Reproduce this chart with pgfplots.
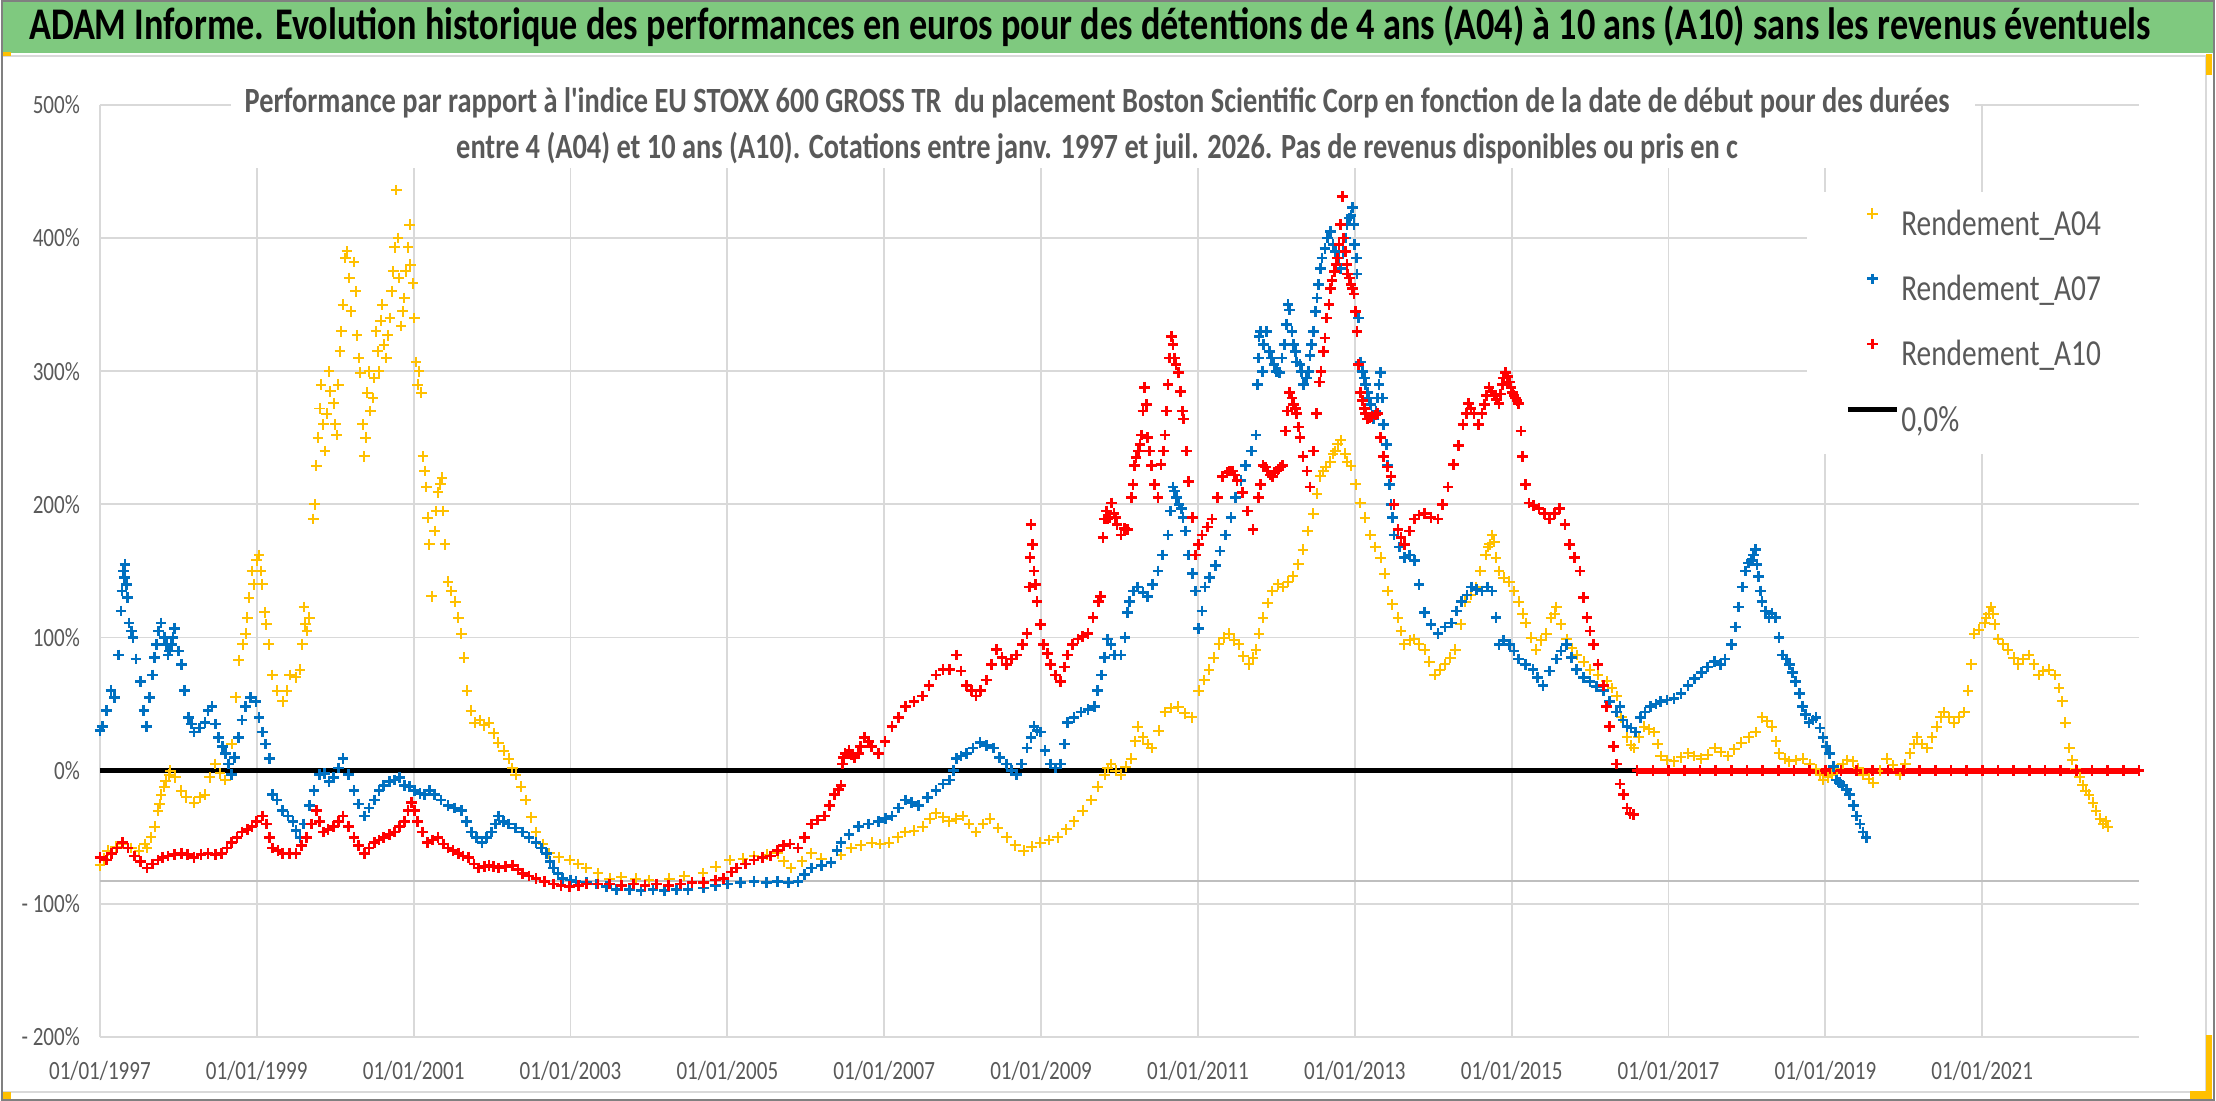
\documentclass[border=0pt]{standalone}
\usepackage{fontspec}
\setmainfont{Carlito}[FakeStretch=0.8, Ligatures=TeXOff]
\usepackage{pgfplots}
\pgfplotsset{compat=1.18}
\definecolor{yellowA}{HTML}{FFC000}
\definecolor{blueA}{HTML}{0070C0}
\definecolor{redA}{HTML}{FF0000}
\definecolor{textgray}{HTML}{595959}
\definecolor{gridgray}{HTML}{D9D9D9}
\definecolor{axisgray}{HTML}{BFBFBF}
\definecolor{bannergreen}{HTML}{7FC97F}
\definecolor{handle}{HTML}{FFC000}
\pgfplotsset{
  markleg/.style={legend image code/.code={\draw[##1] plot coordinates {(7.35pt,3.5pt)};}},
  lineleg/.style={legend image code/.code={\draw[##1] (0pt,3.5pt) -- (14.7pt,3.5pt);}},
  sA04/.style={only marks, mark=+, color=yellowA, mark size=1.6pt, mark options={line width=0.6pt}},
  sA07/.style={only marks, mark=+, color=blueA, mark size=1.6pt, mark options={line width=0.8pt}},
  sA10/.style={only marks, mark=+, color=redA, mark size=1.6pt, mark options={line width=0.8pt}},
}
\begin{document}
\begin{tikzpicture}
% background and frame
\fill[white] (0pt,0pt) rectangle (664.8pt,330.6pt);
\fill[bannergreen] (0pt,314.7pt) rectangle (664.8pt,330.6pt);
\draw[gray!80!green, line width=0.6pt] (0pt,330.3pt) -- (664.8pt,330.3pt);
\draw[gridgray, line width=0.6pt] (0.3pt,2.7pt) rectangle (662.1pt,313.8pt);
\node[anchor=base, font=\fontsize{13.6}{15}\selectfont\bfseries, text=black, inner sep=0pt] at (326.9pt,318.6pt)
 {ADAM Informe. Evolution historique des performances en euros pour des détentions de 4 ans (A04) à 10 ans (A10) sans les revenus éventuels};
\begin{axis}[
  at={(29.7pt,19.2pt)}, anchor=south west,
  scale only axis, width=612.3pt, height=279.9pt,
  xmin=1997, xmax=2023, ymin=-200, ymax=500,
  axis line style={draw=none}, tick style={draw=none},
  grid=major, major grid style={color=gridgray, line width=0.55pt},
  xtick={1997,1999,2001,2003,2005,2007,2009,2011,2013,2015,2017,2019,2021},
  xticklabels={01/01/1997,01/01/1999,01/01/2001,01/01/2003,01/01/2005,01/01/2007,01/01/2009,01/01/2011,01/01/2013,01/01/2015,01/01/2017,01/01/2019,01/01/2021},
  ytick={-200,-100,0,100,200,300,400,500},
  yticklabels={- 200\%,- 100\%,0\%,100\%,200\%,300\%,400\%,500\%},
  ticklabel style={font=\fontsize{7.9}{9}\selectfont, text=textgray},
  xticklabel style={anchor=base, yshift=-12.6pt},
  yticklabel style={xshift=-2.5pt},
  clip=false,
  legend style={at={(axis description cs:0.837,0.907)}, anchor=north west, fill=white, draw=none,
     inner xsep=11.4pt, inner ysep=4.7pt, row sep=9.2pt,
     font=\fontsize{11}{13}\selectfont, text=textgray,
     nodes={inner xsep=0.6pt, inner ysep=0pt, text height=8.2pt, text depth=2.2pt}},
  legend cell align=left,
]
\addplot[axisgray, line width=0.6pt, forget plot] coordinates {(1997,-83) (2023,-83)};
\addplot[black, line width=1.5pt, forget plot] coordinates {(1997,0) (2023,0)};
% A04
\addplot[sA04, markleg] coordinates {
(1997.0,-71) (1997.05,-66) (1997.1,-60) (1997.2,-57) (1997.3,-55) (1997.4,-58) (1997.5,-60) (1997.57,-55)
(1997.6,-58) (1997.65,-50) (1997.7,-42) (1997.74,-30) (1997.78,-18) (1997.84,-8) (1997.9,0) (1997.96,-5)
(1998.04,-15) (1998.1,-20) (1998.2,-24) (1998.27,-20) (1998.34,-18) (1998.4,-5) (1998.47,5) (1998.53,-2)
(1998.6,-7) (1998.68,20) (1998.73,55) (1998.77,83) (1998.82,95) (1998.86,103) (1998.9,130) (1998.94,150)
(1999.0,158) (1999.03,162) (1999.07,140) (1999.1,119) (1999.15,95) (1999.2,72) (1999.26,60) (1999.33,52)
(1999.38,60) (1999.42,72) (1999.5,70) (1999.55,76) (1999.6,123) (1999.64,105) (1999.67,115) (1999.72,189)
(1999.76,229) (1999.8,272) (1999.85,260) (1999.89,268) (1999.94,285) (1999.98,276) (2000.02,252) (2000.06,315)
(2000.1,350) (2000.13,385) (2000.18,370) (2000.24,382) (2000.28,327) (2000.32,299) (2000.37,236) (2000.41,284)
(2000.45,270) (2000.5,295) (2000.54,315) (2000.58,338) (2000.62,320) (2000.67,327) (2000.72,360) (2000.76,393)
(2000.78,436) (2000.81,370) (2000.84,334) (2000.88,355) (2000.93,393) (2000.96,380) (2000.99,366) (2001.03,307)
(2001.07,300) (2001.1,284) (2001.12,236) (2001.16,213) (2001.2,170) (2001.23,131) (2001.27,180) (2001.31,209)
(2001.36,220) (2001.4,170) (2001.44,142) (2001.48,135) (2001.53,127) (2001.57,115) (2001.61,103) (2001.64,85)
(2001.68,60) (2001.73,45) (2001.78,36) (2001.84,38) (2001.9,34) (2001.96,36) (2002.02,28) (2002.08,21)
(2002.15,15) (2002.21,9) (2002.26,2) (2002.3,-3) (2002.37,-12) (2002.43,-22) (2002.5,-35) (2002.56,-46)
(2002.65,-55) (2002.73,-62) (2002.85,-65) (2002.99,-67) (2003.1,-70) (2003.2,-73) (2003.35,-77) (2003.5,-81)
(2003.65,-80) (2003.83,-81) (2004.0,-82) (2004.26,-81) (2004.45,-79) (2004.69,-77) (2004.85,-72) (2005.03,-67)
(2005.2,-66) (2005.34,-64) (2005.5,-63) (2005.64,-62) (2005.72,-68) (2005.81,-73) (2005.95,-68) (2006.07,-62)
(2006.2,-66) (2006.32,-69) (2006.45,-63) (2006.58,-58) (2006.7,-56) (2006.84,-54) (2006.95,-55) (2007.06,-54)
(2007.17,-50) (2007.27,-46) (2007.38,-45) (2007.49,-42) (2007.58,-36) (2007.66,-32) (2007.75,-35) (2007.83,-38)
(2007.92,-36) (2008.0,-34) (2008.08,-40) (2008.17,-46) (2008.26,-40) (2008.35,-36) (2008.45,-43) (2008.56,-50)
(2008.67,-56) (2008.78,-60) (2008.88,-57) (2008.99,-54) (2009.1,-52) (2009.21,-50) (2009.32,-44) (2009.42,-38)
(2009.53,-30) (2009.64,-22) (2009.72,-12) (2009.81,-3) (2009.85,2) (2009.89,5) (2009.95,0) (2010.02,-3)
(2010.08,3) (2010.15,9) (2010.2,22) (2010.23,33) (2010.3,25) (2010.36,20) (2010.41,17) (2010.5,30)
(2010.58,44) (2010.66,47) (2010.75,48) (2010.83,43) (2010.92,40) (2011.01,60) (2011.08,68) (2011.14,76)
(2011.2,85) (2011.27,95) (2011.33,100) (2011.4,103) (2011.46,98) (2011.52,95) (2011.58,86) (2011.65,80)
(2011.7,85) (2011.74,91) (2011.78,103) (2011.83,115) (2011.89,126) (2011.95,135) (2012.02,140) (2012.08,138)
(2012.15,142) (2012.21,146) (2012.28,155) (2012.34,166) (2012.4,180) (2012.47,193) (2012.52,208) (2012.56,221)
(2012.63,228) (2012.69,232) (2012.75,240) (2012.82,248) (2012.88,238) (2012.95,229) (2013.01,215) (2013.07,201)
(2013.13,190) (2013.2,177) (2013.26,168) (2013.33,160) (2013.38,148) (2013.42,135) (2013.48,125) (2013.55,115)
(2013.59,105) (2013.63,95) (2013.7,98) (2013.76,99) (2013.82,95) (2013.89,91) (2013.95,82) (2014.02,72)
(2014.08,76) (2014.15,80) (2014.22,85) (2014.28,91) (2014.35,110) (2014.41,127) (2014.48,132) (2014.54,138)
(2014.6,150) (2014.67,162) (2014.72,170) (2014.75,177) (2014.8,160) (2014.84,150) (2014.9,145) (2014.97,142)
(2015.03,135) (2015.09,127) (2015.14,118) (2015.18,111) (2015.25,100) (2015.31,91) (2015.38,98) (2015.44,103)
(2015.5,115) (2015.57,123) (2015.63,110) (2015.7,99) (2015.77,92) (2015.83,87) (2015.92,82) (2016.0,76)
(2016.1,72) (2016.21,67) (2016.28,62) (2016.34,56) (2016.4,40) (2016.47,25) (2016.52,19) (2016.56,17)
(2016.62,25) (2016.69,33) (2016.75,31) (2016.82,29) (2016.86,20) (2016.9,11) (2016.98,8) (2017.07,7)
(2017.16,10) (2017.25,13) (2017.33,11) (2017.42,9) (2017.5,12) (2017.59,17) (2017.67,14) (2017.76,11)
(2017.84,16) (2017.93,21) (2018.02,25) (2018.11,29) (2018.19,40) (2018.26,37) (2018.32,33) (2018.37,22)
(2018.41,13) (2018.48,9) (2018.54,7) (2018.62,8) (2018.71,9) (2018.8,5) (2018.88,1) (2018.93,-3)
(2018.97,-7) (2019.03,-5) (2019.09,-3) (2019.15,1) (2019.22,5) (2019.28,8) (2019.35,7) (2019.42,2)
(2019.48,-3) (2019.55,-6) (2019.61,-9) (2019.7,0) (2019.78,9) (2019.86,4) (2019.95,-3) (2020.02,5)
(2020.08,13) (2020.13,20) (2020.17,25) (2020.23,20) (2020.3,17) (2020.36,25) (2020.42,33) (2020.47,40)
(2020.51,44) (2020.57,40) (2020.64,36) (2020.7,40) (2020.77,44) (2020.82,60) (2020.86,80) (2020.9,103)
(2020.96,106) (2021.03,111) (2021.08,118) (2021.11,123) (2021.16,110) (2021.2,99) (2021.27,95) (2021.33,91)
(2021.4,85) (2021.46,80) (2021.52,84) (2021.59,87) (2021.66,80) (2021.72,72) (2021.78,75) (2021.85,76)
(2021.93,72) (2021.98,62) (2022.02,52) (2022.06,36) (2022.11,17) (2022.15,8) (2022.19,1) (2022.24,-5)
(2022.28,-11) (2022.32,-15) (2022.36,-18) (2022.41,-24) (2022.45,-30) (2022.5,-36) (2022.54,-40) (2022.58,-38)
(2022.6,-42)
};
\addlegendentry{Rendement\_A04}
\addplot[sA04, forget plot] coordinates {
(1997.76,-25) (1997.82,-12) (1997.88,-3) (1998.88,115) (1998.96,140) (1999.05,150) (1999.12,110) (1999.58,95)
(1999.62,110) (1999.74,200) (1999.78,250) (1999.82,290) (1999.87,240) (1999.92,300) (2000.0,260) (2000.04,290)
(2000.08,330) (2000.15,390) (2000.2,345) (2000.26,360) (2000.3,310) (2000.35,260) (2000.39,250) (2000.43,300)
(2000.48,280) (2000.52,330) (2000.56,300) (2000.6,350) (2000.65,310) (2000.7,340) (2000.74,375) (2000.8,400)
(2000.86,345) (2000.9,375) (2000.95,410) (2001.01,340) (2001.05,290) (2001.14,225) (2001.18,190) (2001.29,195)
(2001.34,215) (2001.38,195) (2012.6,225) (2012.72,238) (2012.78,245) (2012.9,232) (2014.7,168) (2014.78,172)
(2015.55,118) (2021.05,115) (2021.14,118)
};
% A07
\addplot[sA07, markleg] coordinates {
(1997.0,30) (1997.03,33) (1997.08,45) (1997.14,60) (1997.19,55) (1997.24,87) (1997.27,120) (1997.3,150)
(1997.32,155) (1997.35,130) (1997.37,111) (1997.42,100) (1997.46,84) (1997.52,67) (1997.56,45) (1997.59,33)
(1997.63,55) (1997.67,72) (1997.72,95) (1997.78,111) (1997.82,100) (1997.87,87) (1997.91,95) (1997.95,107)
(1998.0,90) (1998.04,80) (1998.08,60) (1998.13,40) (1998.17,35) (1998.2,29) (1998.27,32) (1998.34,36)
(1998.38,45) (1998.43,48) (1998.47,35) (1998.51,25) (1998.56,18) (1998.6,13) (1998.64,5) (1998.68,-3)
(1998.72,10) (1998.77,25) (1998.81,38) (1998.86,48) (1998.92,55) (1998.99,52) (1999.03,40) (1999.07,29)
(1999.11,20) (1999.16,9) (1999.2,-18) (1999.26,-22) (1999.33,-30) (1999.4,-34) (1999.46,-38) (1999.5,-45)
(1999.55,-50) (1999.6,-40) (1999.67,-26) (1999.73,-15) (1999.8,-3) (1999.86,-2) (1999.92,-8) (1999.98,-5)
(2000.04,2) (2000.1,9) (2000.17,-3) (2000.24,-15) (2000.3,-25) (2000.37,-34) (2000.43,-28) (2000.5,-22)
(2000.56,-15) (2000.62,-11) (2000.69,-8) (2000.76,-7) (2000.82,-5) (2000.88,-11) (2000.95,-12) (2001.01,-15)
(2001.08,-17) (2001.14,-18) (2001.2,-15) (2001.27,-18) (2001.35,-22) (2001.44,-26) (2001.52,-28) (2001.61,-30)
(2001.67,-38) (2001.74,-46) (2001.8,-50) (2001.87,-54) (2001.93,-50) (2001.99,-46) (2002.04,-40) (2002.08,-34)
(2002.15,-38) (2002.21,-40) (2002.3,-43) (2002.39,-46) (2002.47,-50) (2002.56,-54) (2002.63,-58) (2002.69,-62)
(2002.74,-68) (2002.78,-73) (2002.84,-77) (2002.9,-81) (2003.0,-82) (2003.07,-83) (2003.2,-84) (2003.33,-85)
(2003.46,-87) (2003.59,-89) (2003.75,-89) (2003.9,-90) (2004.05,-89) (2004.2,-90) (2004.35,-89) (2004.5,-89)
(2004.7,-88) (2004.85,-86) (2005.0,-85) (2005.17,-84) (2005.34,-83) (2005.5,-84) (2005.64,-83) (2005.78,-84)
(2005.9,-83) (2005.98,-78) (2006.07,-73) (2006.2,-71) (2006.32,-69) (2006.4,-60) (2006.45,-54) (2006.55,-48)
(2006.67,-42) (2006.8,-40) (2006.93,-38) (2007.02,-36) (2007.1,-34) (2007.18,-28) (2007.27,-22) (2007.35,-24)
(2007.44,-26) (2007.55,-20) (2007.66,-15) (2007.75,-10) (2007.83,-7) (2007.88,0) (2007.92,9) (2007.98,11)
(2008.05,13) (2008.13,17) (2008.22,21) (2008.3,19) (2008.39,17) (2008.47,10) (2008.56,5) (2008.62,0)
(2008.69,-3) (2008.75,5) (2008.82,17) (2008.87,25) (2008.91,33) (2008.95,30) (2008.99,29) (2009.05,15)
(2009.12,5) (2009.18,2) (2009.25,5) (2009.3,20) (2009.34,36) (2009.42,40) (2009.51,44) (2009.6,46)
(2009.68,48) (2009.72,60) (2009.77,72) (2009.81,85) (2009.85,99) (2009.89,95) (2009.94,87) (2010.02,87)
(2010.07,100) (2010.1,119) (2010.13,127) (2010.18,135) (2010.23,138) (2010.3,134) (2010.36,131) (2010.42,140)
(2010.49,150) (2010.55,162) (2010.62,177) (2010.68,213) (2010.73,205) (2010.79,197) (2010.84,180) (2010.88,162)
(2010.93,148) (2010.97,135) (2011.01,107) (2011.05,120) (2011.09,138) (2011.15,145) (2011.22,154) (2011.28,165)
(2011.35,177) (2011.42,190) (2011.48,205) (2011.55,218) (2011.61,229) (2011.68,240) (2011.74,252) (2011.76,290)
(2011.78,326) (2011.84,320) (2011.91,315) (2011.97,305) (2012.04,299) (2012.1,320) (2012.17,346) (2012.22,320)
(2012.26,307) (2012.32,300) (2012.38,295) (2012.43,312) (2012.47,330) (2012.52,355) (2012.56,377) (2012.62,392)
(2012.69,405) (2012.75,390) (2012.82,377) (2012.88,400) (2012.95,417) (2012.97,423) (2013.0,395) (2013.03,373)
(2013.05,340) (2013.07,307) (2013.12,295) (2013.16,284) (2013.2,275) (2013.24,264) (2013.29,280) (2013.33,299)
(2013.37,260) (2013.42,229) (2013.46,200) (2013.5,177) (2013.57,168) (2013.63,160) (2013.7,162) (2013.76,158)
(2013.82,140) (2013.89,119) (2013.97,110) (2014.06,103) (2014.15,108) (2014.23,111) (2014.3,120) (2014.36,127)
(2014.43,132) (2014.49,138) (2014.55,136) (2014.62,135) (2014.69,138) (2014.75,135) (2014.8,115) (2014.84,95)
(2014.9,98) (2014.97,95) (2015.03,90) (2015.09,84) (2015.18,80) (2015.27,76) (2015.33,70) (2015.4,64)
(2015.48,75) (2015.57,84) (2015.63,90) (2015.7,95) (2015.76,85) (2015.83,76) (2015.92,70) (2016.0,67)
(2016.08,63) (2016.17,60) (2016.25,52) (2016.34,44) (2016.38,48) (2016.42,38) (2016.47,33) (2016.52,32)
(2016.58,29) (2016.64,40) (2016.7,44) (2016.77,48) (2016.84,50) (2016.9,52) (2016.98,53) (2017.07,54)
(2017.16,58) (2017.25,64) (2017.33,69) (2017.42,74) (2017.5,78) (2017.59,82) (2017.66,80) (2017.72,84)
(2017.8,95) (2017.85,108) (2017.89,123) (2017.94,138) (2017.98,150) (2018.02,156) (2018.06,158) (2018.11,166)
(2018.15,146) (2018.19,127) (2018.24,120) (2018.28,115) (2018.32,118) (2018.36,115) (2018.41,100) (2018.45,87)
(2018.5,84) (2018.54,80) (2018.58,74) (2018.62,67) (2018.67,58) (2018.71,48) (2018.75,42) (2018.79,36)
(2018.84,38) (2018.88,40) (2018.93,32) (2018.97,25) (2019.01,18) (2019.05,13) (2019.1,3) (2019.14,-7)
(2019.18,-9) (2019.22,-11) (2019.27,-14) (2019.31,-18) (2019.36,-26) (2019.4,-34) (2019.44,-40) (2019.48,-46)
(2019.52,-50)
};
\addlegendentry{Rendement\_A07}
\addplot[sA07, forget plot] coordinates {
(1997.28,135) (1997.31,145) (1997.34,140) (1997.4,105) (1997.7,85) (1997.75,105) (1997.85,95) (1997.89,90)
(1997.93,100) (2010.65,195) (2010.7,210) (2010.76,200) (2010.81,190) (2011.77,310) (2011.8,330) (2011.82,300)
(2011.87,330) (2011.94,310) (2012.0,300) (2012.07,310) (2012.13,335) (2012.15,350) (2012.2,330) (2012.24,315)
(2012.3,305) (2012.35,290) (2012.41,300) (2012.45,320) (2012.5,345) (2012.54,365) (2012.58,385) (2012.65,400)
(2012.72,395) (2012.79,385) (2012.85,390) (2012.9,410) (2012.93,415) (2012.99,410) (2013.02,385) (2013.1,300)
(2013.14,290) (2013.18,280) (2013.27,270) (2013.31,290) (2013.35,280) (2013.4,245) (2013.44,215) (2013.48,190)
(2018.08,162) (2018.13,155) (2018.17,135)
};
% A10
\addplot[sA10, markleg] coordinates {
(1997.0,-65) (1997.08,-67) (1997.15,-62) (1997.22,-58) (1997.29,-54) (1997.36,-58) (1997.44,-64) (1997.52,-68)
(1997.6,-73) (1997.67,-70) (1997.74,-67) (1997.8,-65) (1997.87,-64) (1997.95,-63) (1998.04,-62) (1998.12,-63)
(1998.2,-65) (1998.29,-63) (1998.38,-62) (1998.47,-63) (1998.55,-62) (1998.62,-58) (1998.68,-54) (1998.75,-50)
(1998.81,-46) (1998.88,-44) (1998.94,-42) (1999.0,-38) (1999.07,-34) (1999.12,-40) (1999.16,-50) (1999.2,-58)
(1999.27,-60) (1999.33,-62) (1999.42,-62) (1999.5,-62) (1999.57,-56) (1999.63,-50) (1999.7,-40) (1999.76,-30)
(1999.8,-38) (1999.85,-46) (1999.91,-44) (1999.98,-42) (2000.04,-38) (2000.1,-34) (2000.17,-42) (2000.24,-50)
(2000.3,-56) (2000.37,-62) (2000.43,-58) (2000.5,-54) (2000.56,-52) (2000.62,-50) (2000.69,-48) (2000.76,-46)
(2000.82,-42) (2000.88,-38) (2000.93,-30) (2000.97,-24) (2001.01,-30) (2001.05,-38) (2001.11,-46) (2001.18,-54)
(2001.24,-52) (2001.31,-50) (2001.38,-55) (2001.44,-58) (2001.5,-60) (2001.57,-62) (2001.63,-64) (2001.7,-65)
(2001.77,-70) (2001.83,-73) (2001.9,-72) (2001.96,-71) (2002.02,-72) (2002.08,-73) (2002.17,-72) (2002.26,-71)
(2002.33,-74) (2002.39,-77) (2002.47,-79) (2002.56,-81) (2002.67,-83) (2002.78,-85) (2002.88,-86) (2002.99,-87)
(2003.1,-86) (2003.2,-85) (2003.35,-85) (2003.5,-85) (2003.65,-86) (2003.8,-85) (2003.95,-86) (2004.1,-85)
(2004.25,-86) (2004.4,-85) (2004.55,-84) (2004.7,-84) (2004.85,-82) (2004.95,-81) (2005.05,-76) (2005.12,-73)
(2005.23,-70) (2005.34,-67) (2005.45,-65) (2005.55,-64) (2005.64,-60) (2005.72,-56) (2005.8,-55) (2005.9,-58)
(2005.98,-50) (2006.07,-40) (2006.15,-37) (2006.24,-34) (2006.3,-26) (2006.37,-18) (2006.42,-14) (2006.45,-11)
(2006.47,5) (2006.5,13) (2006.58,12) (2006.67,13) (2006.75,25) (2006.84,18) (2006.93,13) (2007.01,22)
(2007.1,33) (2007.18,40) (2007.27,48) (2007.38,52) (2007.49,56) (2007.57,64) (2007.66,72) (2007.75,76)
(2007.83,76) (2007.92,87) (2007.98,75) (2008.05,64) (2008.11,60) (2008.17,56) (2008.23,60) (2008.3,68)
(2008.37,80) (2008.43,91) (2008.5,85) (2008.56,80) (2008.62,84) (2008.69,87) (2008.76,95) (2008.82,103)
(2008.85,138) (2008.87,185) (2008.91,150) (2008.95,127) (2008.99,110) (2009.03,95) (2009.08,88) (2009.12,80)
(2009.18,72) (2009.25,67) (2009.3,78) (2009.34,87) (2009.4,95) (2009.47,99) (2009.53,101) (2009.6,103)
(2009.66,115) (2009.73,127) (2009.76,131) (2009.81,189) (2009.85,189) (2009.9,201) (2009.93,193) (2009.97,185)
(2010.02,177) (2010.06,182) (2010.1,181) (2010.15,205) (2010.19,229) (2010.24,240) (2010.28,252) (2010.32,288)
(2010.36,250) (2010.41,229) (2010.45,215) (2010.49,205) (2010.53,230) (2010.58,252) (2010.62,290) (2010.66,326)
(2010.7,310) (2010.75,299) (2010.82,264) (2010.85,240) (2010.88,217) (2010.93,190) (2010.97,162) (2011.01,170)
(2011.05,177) (2011.12,183) (2011.18,189) (2011.25,205) (2011.31,221) (2011.37,224) (2011.44,225) (2011.5,218)
(2011.57,209) (2011.63,195) (2011.7,181) (2011.77,205) (2011.83,229) (2011.89,225) (2011.95,221) (2012.02,226)
(2012.08,229) (2012.12,255) (2012.17,284) (2012.22,275) (2012.26,268) (2012.3,250) (2012.34,236) (2012.39,225)
(2012.43,213) (2012.47,240) (2012.51,268) (2012.55,292) (2012.6,315) (2012.64,340) (2012.69,362) (2012.74,375)
(2012.78,385) (2012.82,410) (2012.84,431) (2012.88,390) (2012.91,373) (2012.95,365) (2012.99,358) (2013.03,330)
(2013.05,305) (2013.07,284) (2013.12,272) (2013.16,264) (2013.22,266) (2013.29,268) (2013.33,250) (2013.37,236)
(2013.42,228) (2013.46,221) (2013.5,200) (2013.55,181) (2013.59,175) (2013.63,170) (2013.7,180) (2013.76,189)
(2013.82,192) (2013.89,193) (2013.97,190) (2014.06,189) (2014.12,200) (2014.19,213) (2014.26,230) (2014.32,244)
(2014.38,260) (2014.45,276) (2014.52,268) (2014.58,260) (2014.65,275) (2014.71,288) (2014.78,282) (2014.84,276)
(2014.88,290) (2014.92,299) (2014.97,292) (2015.01,284) (2015.05,280) (2015.09,276) (2015.12,255) (2015.14,236)
(2015.18,215) (2015.22,201) (2015.28,199) (2015.35,197) (2015.42,193) (2015.48,189) (2015.55,193) (2015.61,197)
(2015.68,185) (2015.74,170) (2015.8,160) (2015.87,150) (2015.92,130) (2015.96,115) (2016.0,105) (2016.04,95)
(2016.1,80) (2016.17,64) (2016.21,48) (2016.25,33) (2016.3,18) (2016.34,5) (2016.38,-10) (2016.43,-18)
(2016.47,-28) (2016.51,-32) (2016.55,-33)
(2016.6,0) (2016.8,0) (2017.0,0) (2017.2,0) (2017.4,0) (2017.6,0) (2017.8,0) (2018.0,0) (2018.2,0) (2018.4,0)
(2018.6,0) (2018.8,0) (2019.0,0) (2019.2,0) (2019.4,0) (2019.6,0) (2019.8,0) (2020.0,0) (2020.2,0) (2020.4,0)
(2020.6,0) (2020.8,0) (2021.0,0) (2021.2,0) (2021.4,0) (2021.6,0) (2021.8,0) (2022.0,0) (2022.2,0) (2022.4,0)
(2022.6,0) (2022.8,0) (2023.0,0)
};
\addlegendentry{Rendement\_A10}
\addplot[sA10, forget plot] coordinates {
(2006.48,10) (2006.55,15) (2006.62,10) (2006.7,18) (2006.8,22) (2008.86,160) (2008.89,170) (2008.93,140)
(2009.79,175) (2009.83,195) (2009.87,190) (2009.95,190) (2010.17,215) (2010.21,235) (2010.26,245) (2010.3,270)
(2010.34,275) (2010.38,240) (2010.56,240) (2010.6,270) (2010.64,310) (2010.68,320) (2010.72,305) (2010.78,285)
(2010.8,270) (2011.4,225) (2011.47,222) (2011.8,215) (2011.86,228) (2011.92,222) (2011.98,224) (2012.05,228)
(2012.14,270) (2012.2,280) (2012.24,272) (2012.28,258) (2012.57,300) (2012.62,325) (2012.67,350) (2012.71,368)
(2012.76,380) (2012.8,395) (2012.86,400) (2012.9,380) (2012.93,370) (2012.97,362) (2013.01,345) (2013.1,278)
(2013.14,268) (2013.19,265) (2013.26,267) (2014.42,268) (2014.48,272) (2014.62,268) (2014.68,282) (2014.74,285)
(2014.81,279) (2014.86,283) (2014.9,295) (2014.95,296) (2014.99,288) (2015.03,282) (2015.07,278)
};
\addplot[redA, line width=1.7pt, forget plot] coordinates {(2016.6,0) (2023,0)};
\addlegendimage{black, line width=1.5pt, lineleg}
\addlegendentry{0,0\%}
\end{axis}
% subtitle box over the plot area
\fill[white] (69pt,280.2pt) rectangle (592.8pt,309.6pt);
\node[anchor=base, font=\fontsize{10.65}{12}\selectfont\bfseries, text=textgray, inner sep=0pt] at (329.1pt,296.8pt)
 {Performance par rapport à l'indice EU STOXX 600 GROSS TR\ \ du placement Boston Scientific Corp en fonction de la date de début pour des durées};
\node[anchor=base, font=\fontsize{10.65}{12}\selectfont\bfseries, text=textgray, inner sep=0pt] at (329.1pt,283pt)
 {entre 4 (A04) et 10 ans (A10). Cotations entre janv. 1997 et juil. 2026. Pas de revenus disponibles ou pris en c};
% selection handles
\fill[handle] (0pt,313.8pt) rectangle (3pt,315pt);
\fill[handle] (0pt,0.3pt) rectangle (3pt,2.7pt);
\fill[handle] (662.1pt,308pt) rectangle (664pt,314.5pt);
\fill[handle] (657.3pt,0.6pt) rectangle (664pt,3pt);
\fill[handle] (662.1pt,0.6pt) rectangle (664pt,19.8pt);
\draw[gray, line width=0.6pt] (0.3pt,0.3pt) rectangle (664.5pt,330.3pt);
\end{tikzpicture}
\end{document}
